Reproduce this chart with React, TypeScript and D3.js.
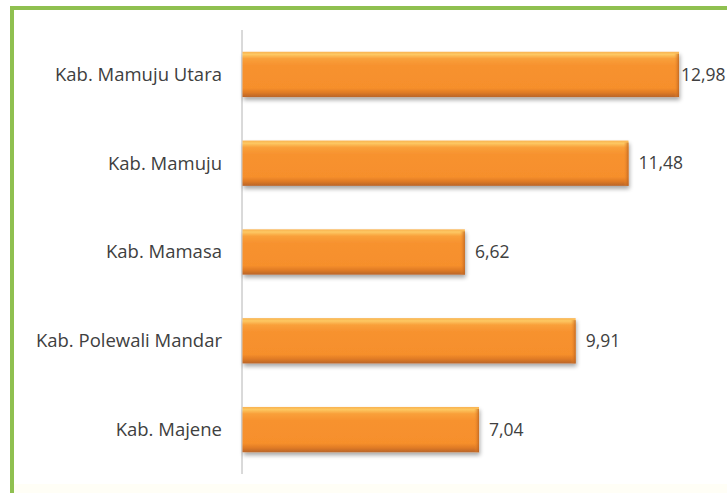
import React from "react";
import * as d3 from "d3";

const categories = [
  "Kab. Mamuju Utara",
  "Kab. Mamuju",
  "Kab. Mamasa",
  "Kab. Polewali Mandar",
  "Kab. Majene",
];
const values = [12.98, 11.48, 6.62, 9.91, 7.04];
const valueLabels = ["12,98", "11,48", "6,62", "9,91", "7,04"];

const W = 727;
const H = 493;

export default function App() {
  const x = d3.scaleLinear().domain([0, 14]).range([242, 242 + 14 * 33.67]);
  const y = d3
    .scaleBand<string>()
    .domain(categories)
    .range([30, 474])
    .paddingInner(0.49)
    .paddingOuter(0.245);
  const font = "'Open Sans', sans-serif";
  return (
    <svg
      width={W}
      height={H}
      style={{ position: "absolute", left: 0, top: 0, background: "#fff" }}
    >
      <defs>
        <linearGradient id="barG" x1="0" y1="0" x2="0" y2="1">
          <stop offset="0" stopColor="#f9b24f" />
          <stop offset="0.06" stopColor="#fdc862" />
          <stop offset="0.15" stopColor="#f9a03a" />
          <stop offset="0.3" stopColor="#f7922f" />
          <stop offset="0.8" stopColor="#f68f2c" />
          <stop offset="0.9" stopColor="#e07b25" />
          <stop offset="1" stopColor="#b9652a" />
        </linearGradient>
        <linearGradient id="edgeR" x1="0" y1="0" x2="1" y2="0">
          <stop offset="0" stopColor="#f68f2c" stopOpacity="0" />
          <stop offset="1" stopColor="#b8601f" stopOpacity="0.8" />
        </linearGradient>
        <filter id="shadow" x="-5%" y="-20%" width="110%" height="160%">
          <feGaussianBlur in="SourceAlpha" stdDeviation="2" />
          <feOffset dx="1" dy="3" result="b" />
          <feComponentTransfer>
            <feFuncA type="linear" slope="0.35" />
          </feComponentTransfer>
          <feMerge>
            <feMergeNode />
            <feMergeNode in="SourceGraphic" />
          </feMerge>
        </filter>
      </defs>
      <rect x={0} y={0} width={W} height={H} fill="#fff" />
      <rect x={10} y={484} width={W} height={9} fill="#fffef6" />
      {/* green frame */}
      <line x1={12} y1={8} x2={W} y2={8} stroke="#8fc050" strokeWidth={4} />
      <line x1={12} y1={6} x2={12} y2={H} stroke="#8fc050" strokeWidth={4} />
      {/* axis */}
      <line
        x1={x(0)}
        y1={30}
        x2={x(0)}
        y2={474}
        stroke="#b4b4b4"
        strokeWidth={1}
      />
      {categories.map((c, i) => {
        const y0 = y(c) as number;
        const bw = y.bandwidth();
        const x0 = x(0) + 0.5;
        const x1 = x(values[i]);
        return (
          <g key={c}>
            <g filter="url(#shadow)">
              <rect x={x0} y={y0} width={x1 - x0} height={bw} fill="url(#barG)" />
            </g>
            <rect
              x={x1 - 5}
              y={y0 + 2}
              width={5}
              height={bw - 2}
              fill="url(#edgeR)"
            />
            <text
              x={222}
              y={y0 + bw / 2}
              dy="0.35em"
              textAnchor="end"
              fontFamily={font}
              fontSize={18.5}
              fill="#404040"
            >
              {c}
            </text>
            <text
              x={Math.min(x1 + 10, 681)}
              y={y0 + bw / 2}
              dy="0.35em"
              textAnchor="start"
              fontFamily={font}
              fontSize={17.5}
              fill="#404040"
            >
              {valueLabels[i]}
            </text>
          </g>
        );
      })}
    </svg>
  );
}
